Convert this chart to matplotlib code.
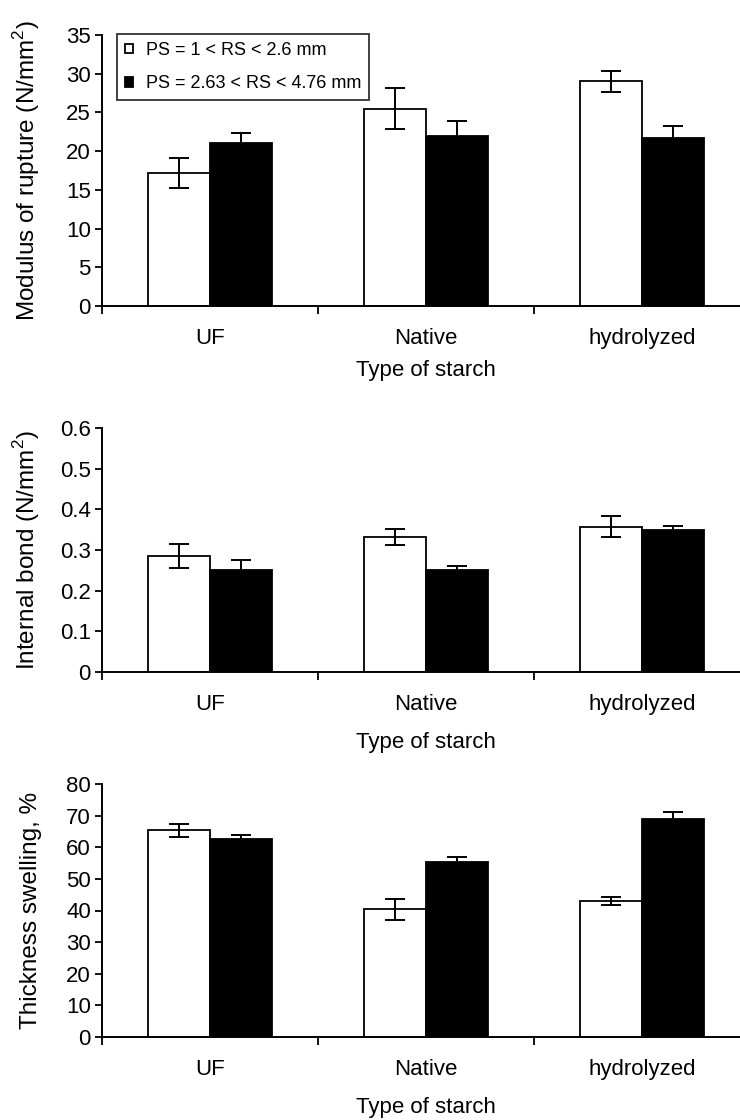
import matplotlib
matplotlib.use("Agg")
import matplotlib.pyplot as plt
import numpy as np

plt.rcParams["font.family"] = ["Liberation Sans", "DejaVu Sans"]
plt.rcParams["mathtext.fontset"] = "custom"
plt.rcParams["mathtext.rm"] = "Liberation Sans"

categories = ["UF", "Native", "hydrolyzed"]
series_labels = ["PS = 1 < RS < 2.6 mm", "PS = 2.63 < RS < 4.76 mm"]

# Modulus of rupture (N/mm2)
mor_fine = [17.2, 25.5, 29.0]
mor_fine_err = [1.9, 2.6, 1.4]
mor_coarse = [21.1, 22.0, 21.7]
mor_coarse_err = [1.3, 1.9, 1.55]

# Internal bond (N/mm2)
ib_fine = [0.285, 0.332, 0.357]
ib_fine_err = [0.030, 0.020, 0.026]
ib_coarse = [0.250, 0.250, 0.348]
ib_coarse_err = [0.025, 0.010, 0.010]

# Thickness swelling (%)
ts_fine = [65.4, 40.4, 43.1]
ts_fine_err = [2.1, 3.3, 1.3]
ts_coarse = [62.6, 55.2, 69.0]
ts_coarse_err = [1.3, 1.8, 2.0]

W, H = 740, 1120
fig = plt.figure(figsize=(W / 100, H / 100), dpi=100)


def px_axes(top, bottom, left=102, right=750):
    return [left / W, 1 - bottom / H, (right - left) / W, (bottom - top) / H]


panels = [
    dict(rect=px_axes(35, 306), fine=mor_fine, fe=mor_fine_err, coarse=mor_coarse, ce=mor_coarse_err,
         ylim=35, step=5, fmt="{:.0f}", ylabel="Modulus of rupture (N/mm$^2$)", xpad=8),
    dict(rect=px_axes(428, 672), fine=ib_fine, fe=ib_fine_err, coarse=ib_coarse, ce=ib_coarse_err,
         ylim=0.6, step=0.1, fmt="{:g}", ylabel="Internal bond (N/mm$^2$)", xpad=12),
    dict(rect=px_axes(784, 1037), fine=ts_fine, fe=ts_fine_err, coarse=ts_coarse, ce=ts_coarse_err,
         ylim=80, step=10, fmt="{:.0f}", ylabel="Thickness swelling, %", xpad=12),
]

x = np.arange(len(categories))
bw = 0.285

for i, p in enumerate(panels):
    ax = fig.add_axes(p["rect"])
    ax.bar(x - bw / 2, p["fine"], bw, color="white", edgecolor="black", linewidth=1.3,
           label=series_labels[0], zorder=2)
    ax.bar(x + bw / 2, p["coarse"], bw, color="black", edgecolor="black", linewidth=1.3,
           label=series_labels[1], zorder=2)
    ax.errorbar(x - bw / 2, p["fine"], yerr=p["fe"], fmt="none", ecolor="black",
                elinewidth=1.4, capsize=7.5, capthick=1.4, zorder=3)
    ax.errorbar(x + bw / 2, p["coarse"], yerr=p["ce"], fmt="none", ecolor="black",
                elinewidth=1.4, capsize=7.5, capthick=1.4, zorder=3)

    ax.set_xlim(-0.5, len(categories) - 0.5)
    ax.set_ylim(0, p["ylim"])
    yt = np.arange(0, p["ylim"] + p["step"] / 2, p["step"])
    ax.set_yticks(yt)
    ax.set_yticklabels([p["fmt"].format(round(v, 2)) for v in yt])

    ax.set_xticks(x)
    ax.set_xticklabels(categories)
    ax.set_xticks(np.arange(-0.5, len(categories) + 0.5, 1), minor=True)
    ax.tick_params(axis="x", which="major", length=0, pad=16, labelsize=16)
    ax.tick_params(axis="x", which="minor", length=6, width=1.3, direction="out")
    ax.tick_params(axis="y", length=5, width=1.3, direction="out", labelsize=16, pad=3)

    for s in ("top", "right"):
        ax.spines[s].set_visible(False)
    for s in ("left", "bottom"):
        ax.spines[s].set_linewidth(1.4)

    ax.set_xlabel("Type of starch", fontsize=16, labelpad=p["xpad"])
    ax.set_ylabel(p["ylabel"], fontsize=17.5)
    ax.yaxis.set_label_coords(-0.093, 0.5)

    if i == 0:
        leg = ax.legend(loc="upper left", bbox_to_anchor=(0.023, 1.004), fontsize=13,
                        frameon=True, fancybox=False, edgecolor="black",
                        handlelength=0.45, handleheight=0.45, handletextpad=0.7,
                        borderpad=0.45, labelspacing=0.9, borderaxespad=0)
        leg.get_frame().set_linewidth(1.3)

fig.savefig("out.png", dpi=100)
